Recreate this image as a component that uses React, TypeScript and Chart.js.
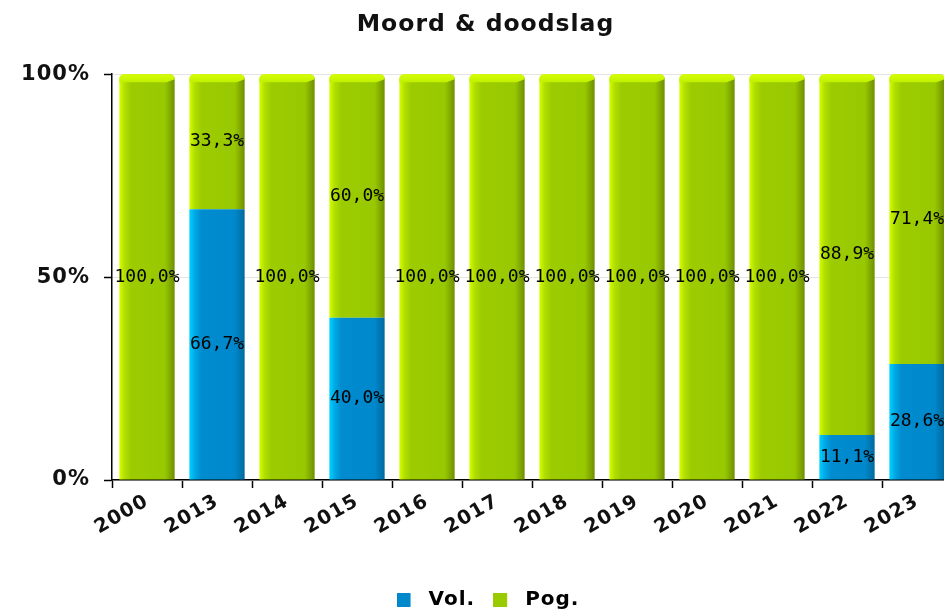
import React, { useEffect, useRef } from 'react';
import { Chart, registerables } from 'chart.js';

Chart.register(...registerables);

const categories = ['2000', '2013', '2014', '2015', '2016', '2017', '2018', '2019', '2020', '2021', '2022', '2023'];
const volValues = [0, 66.7, 0, 40.0, 0, 0, 0, 0, 0, 0, 11.1, 28.6];
const pogValues = [100.0, 33.3, 100.0, 60.0, 100.0, 100.0, 100.0, 100.0, 100.0, 100.0, 88.9, 71.4];
const yTickValues = [0, 50, 100];
const seriesNames = ['Vol.', 'Pog.'];
const seriesColors = ['#0088cc', '#99cc00'];

const BAR_FRACTION = 0.79;

type Stop = [number, string];
const blueStops: Stop[] = [
  [0, '#00d2ff'],
  [0.1, '#00a8e6'],
  [0.22, '#008ccf'],
  [0.82, '#0088cc'],
  [1, '#006a9e'],
];
const greenStops: Stop[] = [
  [0, '#d4ff00'],
  [0.1, '#b0dd00'],
  [0.22, '#9ccc00'],
  [0.82, '#98c800'],
  [1, '#6e9000'],
];

function makeGradient(stops: Stop[]) {
  return (c: any) => {
    const chart = c.chart;
    const xScale = chart.scales && chart.scales.x;
    if (!chart.chartArea || !xScale || c.type !== 'data') return stops[2][1];
    const center = xScale.getPixelForValue(c.dataIndex);
    const step = xScale.getPixelForValue(1) - xScale.getPixelForValue(0);
    const w = step * BAR_FRACTION;
    const g = chart.ctx.createLinearGradient(center - w / 2, 0, center + w / 2, 0);
    stops.forEach(([o, col]) => g.addColorStop(o, col));
    return g;
  };
}

function legendSwatch(color: string) {
  const c = document.createElement('canvas');
  c.width = 22;
  c.height = 14;
  const g = c.getContext('2d')!;
  g.fillStyle = color;
  g.fillRect(0, 0, 14, 14);
  return c;
}

const spacingPlugin = {
  id: 'letterSpacing',
  beforeLayout(chart: any) {
    chart.ctx.letterSpacing = '1px';
  },
  afterLayout(chart: any) {
    if (chart.titleBlock) chart.titleBlock.left += 19;
    if (chart.legend) chart.legend.left += 24;
  },
  beforeDraw(chart: any) {
    chart.ctx.letterSpacing = '1px';
  },
};

// bright top bevel on the top segment of each bar
const bevelPlugin = {
  id: 'bevel',
  afterDatasetsDraw(chart: any) {
    const ctx = chart.ctx;
    const meta = chart.getDatasetMeta(1);
    ctx.save();
    meta.data.forEach((bar: any, i: number) => {
      if (!pogValues[i]) return;
      const p = bar.getProps(['x', 'y', 'width'], true);
      const L = p.x - p.width / 2;
      const R = p.x + p.width / 2;
      const T = p.y;
      const g = ctx.createLinearGradient(0, T, 0, T + 8);
      g.addColorStop(0, '#d8ff00');
      g.addColorStop(1, '#bff000');
      ctx.fillStyle = g;
      ctx.beginPath();
      ctx.moveTo(L, T + 8);
      ctx.lineTo(L, T + 5);
      ctx.quadraticCurveTo(L, T, L + 5, T);
      ctx.lineTo(R - 5, T);
      ctx.quadraticCurveTo(R, T, R, T + 5);
      ctx.lineTo(R - 8, T + 8);
      ctx.closePath();
      ctx.fill();
    });
    ctx.restore();
  },
};

const labelPlugin = {
  id: 'segLabels',
  afterDatasetsDraw(chart: any) {
    const ctx = chart.ctx;
    ctx.save();
    ctx.letterSpacing = '0px';
    ctx.font = '18px "DejaVu Sans Mono"';
    ctx.fillStyle = '#000';
    ctx.textAlign = 'center';
    ctx.textBaseline = 'middle';
    chart.data.datasets.forEach((ds: any, di: number) => {
      const meta = chart.getDatasetMeta(di);
      meta.data.forEach((bar: any, i: number) => {
        const v = ds.data[i];
        if (!v) return;
        const p = bar.getProps(['x', 'y', 'base'], true);
        ctx.fillText(v.toFixed(1).replace('.', ',') + '%', p.x, (p.y + p.base) / 2);
      });
    });
    ctx.restore();
  },
};

export default function App() {
  const ref = useRef<HTMLCanvasElement>(null);

  useEffect(() => {
    document.body.style.margin = '0';
    if (!ref.current) return;
    const swatches = seriesColors.map(legendSwatch);
    const chart = new Chart(ref.current, {
      type: 'bar',
      data: {
        labels: categories,
        datasets: [
          {
            label: seriesNames[0],
            data: volValues,
            backgroundColor: makeGradient(blueStops) as any,
            borderWidth: 0,
            categoryPercentage: 1,
            barPercentage: BAR_FRACTION,
          },
          {
            label: seriesNames[1],
            data: pogValues,
            backgroundColor: makeGradient(greenStops) as any,
            borderWidth: 0,
            borderRadius: { topLeft: 5, topRight: 5, bottomLeft: 0, bottomRight: 0 },
            borderSkipped: 'start',
            categoryPercentage: 1,
            barPercentage: BAR_FRACTION,
          },
        ],
      },
      options: {
        responsive: false,
        animation: false,
        layout: { padding: { left: 0, right: 20, top: 0, bottom: 0 } },
        plugins: {
          title: {
            display: true,
            text: 'Moord & doodslag',
            color: '#111',
            font: { family: '"DejaVu Sans"', size: 23.5, weight: 'bold' },
            padding: { top: 11, bottom: 35 },
          },
          legend: {
            position: 'bottom',
            labels: {
              usePointStyle: true,
              pointStyleWidth: 22,
              boxHeight: 14,
              padding: 18,
              color: '#777',
              font: { family: '"DejaVu Sans"', size: 20, weight: 'bold' },
              generateLabels: () =>
                seriesNames.map((n, i) => ({
                  text: n,
                  fillStyle: seriesColors[i],
                  strokeStyle: seriesColors[i],
                  lineWidth: 0,
                  pointStyle: swatches[i],
                  datasetIndex: i,
                  hidden: false,
                })) as any,
            },
          },
          tooltip: { enabled: false },
        },
        scales: {
          x: {
            stacked: true,
            offset: true,
            grid: { drawOnChartArea: false, offset: true, tickColor: '#000', tickLength: 8, tickWidth: 1.5 },
            border: { color: '#000', width: 1.5 },
            ticks: {
              maxRotation: 30,
              minRotation: 30,
              color: '#111',
              padding: 2,
              font: { family: '"DejaVu Sans"', size: 19.5, weight: 'bold' },
            },
            afterFit: (s: any) => {
              s.height = 92;
            },
          },
          y: {
            stacked: true,
            min: 0,
            max: 100,
            afterBuildTicks: (s: any) => {
              s.ticks = yTickValues.map((v) => ({ value: v }));
            },
            grid: { color: '#e4e4e4', tickColor: '#000', tickLength: 8, tickWidth: 1.5 },
            border: { color: '#000', width: 1.5 },
            ticks: {
              color: '#111',
              padding: 14,
              font: { family: '"DejaVu Sans"', size: 21, weight: 'bold' },
              callback: (v: any) => v + '%',
            },
            afterFit: (s: any) => {
              s.width = 112;
            },
          },
        },
      },
      plugins: [spacingPlugin, bevelPlugin, labelPlugin],
    });
    return () => chart.destroy();
  }, []);

  return (
    <div style={{ width: 944, height: 611, overflow: 'hidden', position: 'relative' }}>
      <canvas ref={ref} width={972} height={620} style={{ display: 'block', width: 972, height: 620 }} />
    </div>
  );
}
